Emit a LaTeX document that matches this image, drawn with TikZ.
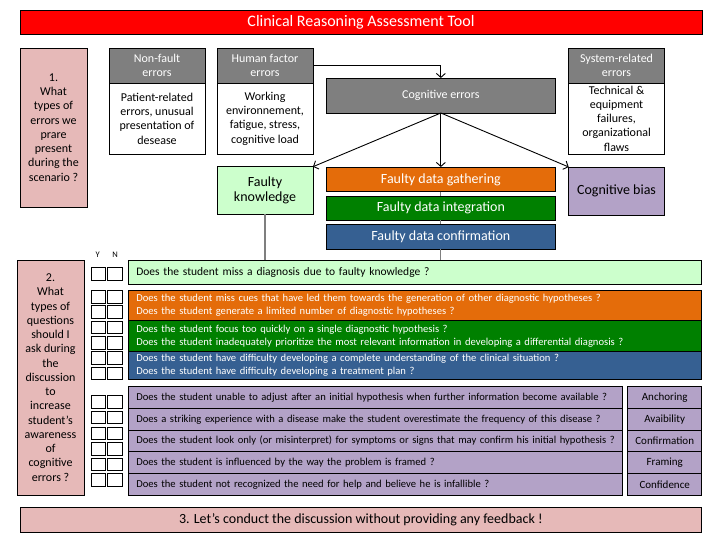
\documentclass[tikz,border=0pt]{standalone}
\usepackage{fontspec}
\setmainfont{Carlito}
\usetikzlibrary{arrows.meta}
\definecolor{titlered}{HTML}{FF0000}
\definecolor{pinkbox}{HTML}{E6B9B8}
\definecolor{headgray}{HTML}{7F7F7F}
\definecolor{lightgreen}{HTML}{CCFFCC}
\definecolor{orangebox}{HTML}{E46C0A}
\definecolor{greenbox}{HTML}{008000}
\definecolor{bluebox}{HTML}{366092}
\definecolor{purplebox}{HTML}{B3A2C7}
\begin{document}
\begin{tikzpicture}[x=1pt,y=-1pt,
  box/.style={draw=black, line width=0.8pt, inner sep=0pt, outer sep=0pt, anchor=north west, align=center},
  head/.style={box, fill=headgray, text=white, font=\fontsize{12}{14}\selectfont},
  body/.style={box, fill=white, font=\fontsize{12}{14.3}\selectfont},
  pinkq/.style={box, fill=pinkbox, font=\fontsize{12}{14.25}\selectfont},
  row/.style={box, align=left, inner xsep=8pt, font=\fontsize{10.6}{13}\selectfont},
  prow/.style={box, fill=purplebox, align=left, inner xsep=8pt, minimum height=21.7pt, font=\fontsize{10.6}{13}\selectfont},
  plab/.style={box, fill=purplebox, minimum width=74pt, minimum height=21.7pt, font=\fontsize{11}{13}\selectfont},
  cbox/.style={draw=black, line width=0.7pt, fill=white, minimum width=14.3pt, minimum height=12.5pt, inner sep=0pt, anchor=north west},
  conn/.style={draw=black, line width=0.9pt, -{Straight Barb[length=4pt,width=9pt]}},
  gline/.style={draw=headgray, line width=1.1pt}
]
\useasboundingbox (0,0) rectangle (720,540);
\fill[white] (0,0) rectangle (720,540);

% title
\node[box, fill=titlered, text=white, minimum width=682pt, minimum height=24pt, font=\fontsize{16}{19}\selectfont] (title) at (20,10) {Clinical Reasoning Assessment Tool};

% section 1
\node[pinkq, minimum width=67pt, minimum height=159pt] (q1box) at (20,48) {1.\\What\\types of\\errors we\\prare\\present\\during the\\scenario ?};

\node[head, minimum width=96pt, minimum height=35pt] (nfh) at (109,48) {Non-fault\\errors};
\node[body, minimum width=96pt, minimum height=71pt] (nfb) at (109,83) {Patient-related\\errors, unusual\\presentation of\\desease};

\node[head, minimum width=96pt, minimum height=35pt] (hfh) at (217,48) {Human factor\\errors};
\node[body, minimum width=96pt, minimum height=71pt] (hfb) at (217,83) {Working\\environnement,\\fatigue, stress,\\cognitive load};

\node[head, minimum width=95.7pt, minimum height=35pt] (srh) at (568.7,48) {System-related\\errors};
\node[body, minimum width=95.7pt, minimum height=71pt] (srb) at (568.7,83) {Technical \&\\equipment\\failures,\\organizational\\flaws};

\node[box, fill=headgray, text=white, minimum width=229.7pt, minimum height=35pt, font=\fontsize{12}{14}\selectfont] (cog) at (326,78) {Cognitive errors};

\node[box, fill=lightgreen, minimum width=96pt, minimum height=47.3pt, font=\fontsize{14}{15.7}\selectfont] (fk) at (217,166.7) {Faulty\\knowledge};
\node[box, fill=orangebox, text=white, minimum width=229.7pt, minimum height=24.7pt, font=\fontsize{14}{16}\selectfont] (fg) at (326,167) {Faulty data gathering};
\node[box, fill=greenbox, text=white, minimum width=229.7pt, minimum height=24.3pt, font=\fontsize{14}{16}\selectfont] (fi) at (326,196) {Faulty data integration};
\node[box, fill=bluebox, text=white, minimum width=229.7pt, minimum height=25pt, font=\fontsize{14}{16}\selectfont] (fc) at (326,224) {Faulty data confirmation};
\node[box, fill=purplebox, minimum width=95.7pt, minimum height=48pt, font=\fontsize{14}{16}\selectfont] (cb) at (568.7,167) {Cognitive bias};

% section 2
\node[pinkq, minimum width=67pt, minimum height=235pt] (q2box) at (17,260) {2.\\What\\types of\\questions\\should I\\ask during\\the\\discussion\\to\\increase\\student’s\\awareness\\of\\cognitive\\errors ?};

\node[font=\fontsize{8.5}{9}\selectfont, inner sep=0pt] (ylab) at (97.7,255) {Y};
\node[font=\fontsize{8.5}{9}\selectfont, inner sep=0pt] (nlab) at (115,255) {N};

\foreach \yy [count=\i] in {267,290,305.3,320.7,336,351,366.7,395,410.7,426.7,442.3,457.7,473.3}{
  \node[cbox] (y\i) at (90.7,\yy) {};
  \node[cbox] (n\i) at (107.3,\yy) {};
}

\node[row, fill=lightgreen, text width=557.4pt, minimum height=24.3pt, font=\fontsize{11.5}{14}\selectfont] (qa) at (128.3,260) {Does the student miss a diagnosis due to faulty knowledge ?};
\node[row, fill=orangebox, text=white, text width=557.4pt, minimum height=30.7pt] (qb) at (128.3,290) {\mbox{Does the student miss cues that have led them towards the generation of other diagnostic hypotheses ?}\\\mbox{Does the student generate a limited number of diagnostic hypotheses ?}};
\node[row, fill=greenbox, text=white, text width=557.4pt, minimum height=30.3pt] (qc) at (128.3,320.7) {\mbox{Does the student focus too quickly on a single diagnostic hypothesis ?}\\\mbox{Does the student inadequately prioritize the most relevant information in developing a differential diagnosis ?}};
\node[row, fill=bluebox, text=white, text width=557.4pt, minimum height=28.3pt] (qd) at (128.3,351) {\mbox{Does the student have difficulty developing a complete understanding of the clinical situation ?}\\\mbox{Does the student have difficulty developing a treatment plan ?}};

\node[prow, text width=478pt] (p1) at (128.3,386.7) {\mbox{Does the student unable to adjust after an initial hypothesis when further information become available ?}};
\node[prow, text width=478pt] (p2) at (128.3,408.4) {\mbox{Does a striking experience with a disease make the student overestimate the frequency of this disease ?}};
\node[prow, text width=478pt] (p3) at (128.3,430.1) {\mbox{Does the student look only (or misinterpret) for symptoms or signs that may confirm his initial hypothesis ?}};
\node[prow, text width=478pt] (p4) at (128.3,451.8) {\mbox{Does the student is influenced by the way the problem is framed ?}};
\node[prow, text width=478pt] (p5) at (128.3,473.5) {\mbox{Does the student not recognized the need for help and believe he is infallible ?}};

\node[plab] (l1) at (627.7,386.7) {Anchoring};
\node[plab] (l2) at (627.7,408.4) {Avaibility};
\node[plab] (l3) at (627.7,430.1) {Confirmation};
\node[plab] (l4) at (627.7,451.8) {Framing};
\node[plab] (l5) at (627.7,473.5) {Confidence};

% section 3
\node[box, fill=pinkbox, minimum width=681.7pt, minimum height=24.6pt, font=\fontsize{14}{17}\selectfont] (q3box) at (20,507.7) {3. Let’s conduct the discussion without providing any feedback !};

% connectors
\draw[conn] (hfh.east) -| (cog.north);
\draw[conn] (cog.south) -- (fk.north east);
\draw[conn] (cog.south) -- (fg.north);
\draw[conn] (cog.south) -- (cb.north west);
\draw[gline] (fk.south) -- (fk.south |- qa.north);
\draw[gline] (fg.south) -- (fi.north);
\draw[gline] (fi.south) -- (fc.north);
\draw[gline] (fc.south) -- (fc.south |- qa.north);
\end{tikzpicture}
\end{document}
